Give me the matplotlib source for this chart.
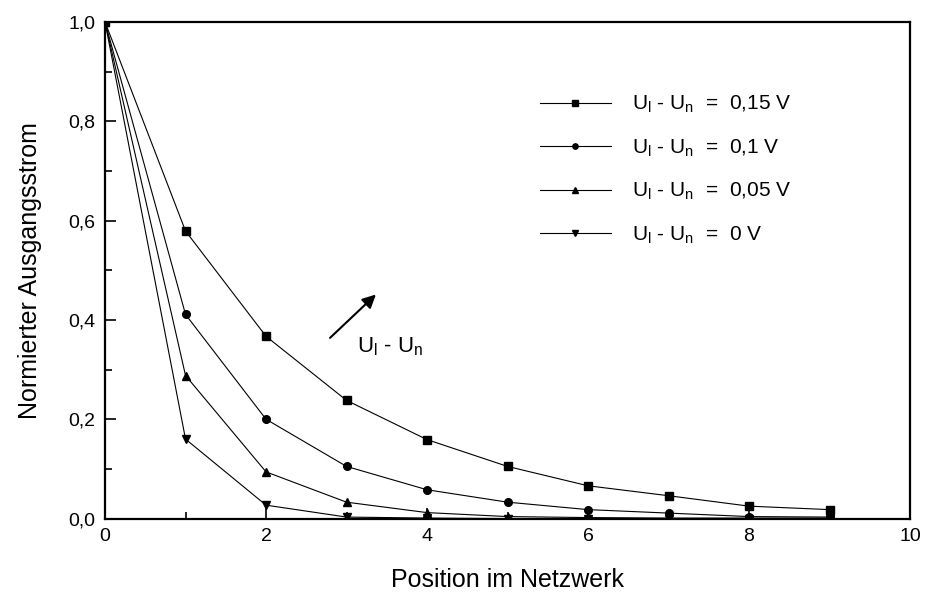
import matplotlib
matplotlib.use("Agg")
import matplotlib.pyplot as plt

plt.rcParams['font.family'] = ['Liberation Sans', 'DejaVu Sans']
plt.rcParams['mathtext.fontset'] = 'custom'
plt.rcParams['mathtext.rm'] = 'Liberation Sans'

# Position im Netzwerk
pos = [0, 1, 2, 3, 4, 5, 6, 7, 8, 9]

# normierter Ausgangsstrom fuer die vier Spannungsdifferenzen
i_015 = [1.0, 0.579, 0.367, 0.238, 0.159, 0.105, 0.066, 0.046, 0.025, 0.018]
i_010 = [1.0, 0.411, 0.200, 0.105, 0.058, 0.033, 0.018, 0.011, 0.004, 0.003]
i_005 = [1.0, 0.288, 0.094, 0.033, 0.012, 0.004, 0.002, 0.001, 0.001, 0.001]
i_000 = [1.0, 0.160, 0.027, 0.003, 0.001, 0.0, 0.0, 0.0, 0.0, 0.0]

labels = ['0,15 V', '0,1 V', '0,05 V', '0 V']
markers = ['s', 'o', '^', 'v']

fig = plt.figure(figsize=(9.27, 5.94), dpi=100)
ax = fig.add_axes([0.1133, 0.127, 0.8684, 0.836])

for y, lab, m in zip([i_015, i_010, i_005, i_000], labels, markers):
    ax.plot(pos, y, color='black', lw=0.8, marker=m, ms=5.5,
            label='U$_\\mathregular{l}$ - U$_\\mathregular{n}$  =  ' + lab)

ax.set_xlim(0, 10)
ax.set_ylim(0, 1.0)
ax.set_xticks([0, 2, 4, 6, 8, 10])
ax.set_xticks([1, 3, 5, 7, 9], minor=True)
ax.set_yticks([0, 0.2, 0.4, 0.6, 0.8, 1.0])
ax.set_yticks([0.1, 0.3, 0.5, 0.7, 0.9], minor=True)
ax.set_yticklabels(['0,0', '0,2', '0,4', '0,6', '0,8', '1,0'])
ax.tick_params(which='major', direction='in', length=8, width=1.2, labelsize=14, pad=7)
ax.tick_params(which='minor', direction='in', length=5, width=1.2)
for s in ax.spines.values():
    s.set_linewidth(1.6)

ax.set_xlabel('Position im Netzwerk', fontsize=18, labelpad=16)
ax.set_ylabel('Normierter Ausgangsstrom', fontsize=18, labelpad=19)

ax.annotate('', xy=(3.39, 0.455), xytext=(2.77, 0.36),
            arrowprops=dict(arrowstyle='-|>', color='black', lw=1.5, mutation_scale=20))
ax.text(3.13, 0.335, 'U$_\\mathregular{l}$ - U$_\\mathregular{n}$', fontsize=16)

ax.legend(loc='upper left', bbox_to_anchor=(0.53, 0.872), frameon=False, borderaxespad=0,
          fontsize=15, handlelength=3.4, handletextpad=1.0, markerscale=0.7, labelspacing=1.05)

fig.savefig('out.png', dpi=100)
